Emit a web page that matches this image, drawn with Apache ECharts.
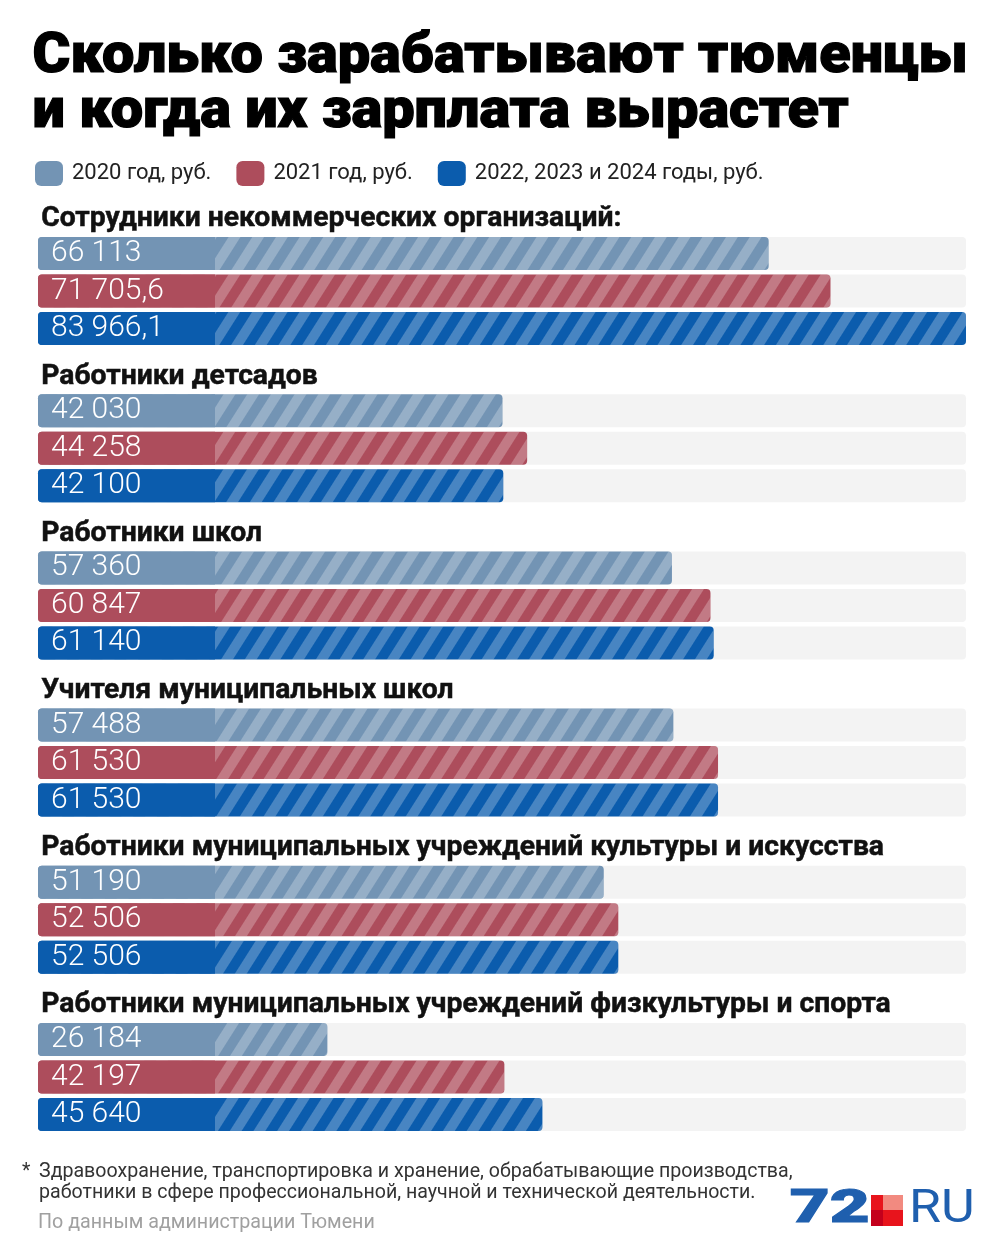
<!DOCTYPE html>
<html>
<head>
<meta charset="utf-8">
<script src="https://cdn.jsdelivr.net/npm/echarts@6/dist/echarts.min.js"></script>
<style>
html,body{margin:0;padding:0;background:#fff;}
#chart{width:1000px;height:1250px;}
</style>
</head>
<body>
<div id="chart"></div>
<script>
// ---- data ----
const titleLines = ['Сколько зарабатывают тюменцы', 'и когда их зарплата вырастет'];
const seriesNames = ['2020 год, руб.', '2021 год, руб.', '2022, 2023 и 2024 годы, руб.'];
const groups = [
  'Сотрудники некоммерческих организаций:',
  'Работники детсадов',
  'Работники школ',
  'Учителя муниципальных школ',
  'Работники муниципальных учреждений культуры и искусства',
  'Работники муниципальных учреждений физкультуры и спорта'
];
const values2020 = [66113, 42030, 57360, 57488, 51190, 26184];
const values2021 = [71705.6, 44258, 60847, 61530, 52506, 42197];
const values2022 = [83966.1, 42100, 61140, 61530, 52506, 45640];
const footnoteLines = [
  'Здравоохранение, транспортировка и хранение, обрабатывающие производства,',
  'работники в сфере профессиональной, научной и технической деятельности.'
];
const sourceText = 'По данным администрации Тюмени';

// ---- style ----
const colors = ['#7394b4', '#ad4d5c', '#0b5cad'];
const FONT = 'Roboto';
const gridLeft = 38, gridWidth = 928;
const firstBarTop = 237, groupStep = 157.2, band = 37.5, barH = 33;
const solidPx = 177; // px from bar start where stripes begin

const allValues = [values2020, values2021, values2022];
const maxVal = Math.max(...values2020, ...values2021, ...values2022);
const solidVal = maxVal * solidPx / gridWidth;

function fmt(v) {
  const parts = String(v).split('.');
  const intPart = parts[0].replace(/\B(?=(\d{3})+(?!\d))/g, ' ');
  return parts.length > 1 ? intPart + ',' + parts[1] : intPart;
}

const grids = [], xAxes = [], yAxes = [], series = [], graphics = [];
groups.forEach((g, gi) => {
  const top = firstBarTop + gi * groupStep - (band - barH) / 2;
  grids.push({left: gridLeft, width: gridWidth, top: top, height: band * 3});
  xAxes.push({type: 'value', gridIndex: gi, min: 0, max: maxVal, show: false});
  yAxes.push({type: 'category', gridIndex: gi, inverse: true, show: false, data: ['0', '1', '2']});
  for (let k = 0; k < 3; k++) {
    const full = [0, 1, 2].map(i => i === k ? allValues[k][gi] : '-');
    const solid = [0, 1, 2].map(i => i === k ? Math.min(allValues[k][gi], solidVal) : '-');
    series.push({
      type: 'bar', name: seriesNames[k] + ' ', xAxisIndex: gi, yAxisIndex: gi,
      data: full, barWidth: barH, barGap: '-100%', silent: true,
      showBackground: k === 0,
      backgroundStyle: {color: '#f3f3f3', borderRadius: 4},
      itemStyle: {
        color: colors[k], borderRadius: 4,
        decal: {
          symbol: 'rect', symbolSize: 1, dashArrayX: [1, 0], dashArrayY: [10, 10],
          rotation: -Math.PI * 0.32, color: 'rgba(255,255,255,0.25)'
        }
      }
    });
    series.push({
      type: 'bar', name: seriesNames[k], xAxisIndex: gi, yAxisIndex: gi,
      data: solid, barWidth: barH, barGap: '-100%', silent: true,
      itemStyle: {color: colors[k], borderRadius: [4, 0, 0, 4]},
      label: {
        show: true, position: 'insideLeft', distance: 13,
        color: '#fff', fontFamily: FONT, fontWeight: 300, fontSize: 30,
        formatter: () => fmt(allValues[k][gi])
      }
    });
  }
  graphics.push({
    type: 'text', left: 41, top: firstBarTop + gi * groupStep - 32,
    style: {text: g, fontFamily: FONT, fontWeight: 'bold', fontSize: 28.3, fill: '#111',
      stroke: '#111', lineWidth: 0.5}
  });
});

// title
titleLines.forEach((t, i) => {
  graphics.push({
    type: 'text', left: 32, top: 29 + i * 55, scaleX: 1.03,
    style: {text: t, fontFamily: FONT, fontWeight: 900, fontSize: 56, fill: '#000',
      stroke: '#000', lineWidth: 1.2}
  });
});
// footnote
graphics.push({type: 'text', left: 22, top: 1162, style: {text: '*', fontFamily: FONT, fontSize: 19.5, fill: '#333'}});
footnoteLines.forEach((t, i) => {
  graphics.push({type: 'text', left: 39, top: 1162 + i * 21,
    style: {text: t, fontFamily: FONT, fontSize: 19.6, fill: '#333'}});
});
graphics.push({type: 'text', left: 38, top: 1213,
  style: {text: sourceText, fontFamily: FONT, fontSize: 19.7, fill: '#a0a0a0'}});
// logo
graphics.push({type: 'text', left: 789, top: 1187, scaleX: 1.5,
  style: {text: '72', fontFamily: FONT, fontWeight: 900, fontSize: 46, fill: '#1f5fae',
    stroke: '#1f5fae', lineWidth: 1}});
graphics.push({type: 'rect', shape: {x: 871, y: 1195, width: 12, height: 15}, style: {fill: '#e8141c'}});
graphics.push({type: 'rect', shape: {x: 883, y: 1195, width: 20, height: 15}, style: {fill: '#f28a80'}});
graphics.push({type: 'rect', shape: {x: 871, y: 1210, width: 12, height: 16}, style: {fill: '#c4001c'}});
graphics.push({type: 'rect', shape: {x: 883, y: 1210, width: 20, height: 16}, style: {fill: '#e8141c'}});
graphics.push({type: 'text', left: 909, top: 1187, scaleX: 1.13,
  style: {text: 'RU', fontFamily: FONT, fontWeight: 400, fontSize: 46, fill: '#1f5fae'}});

const chart = echarts.init(document.getElementById('chart'), null, {renderer: 'canvas'});
chart.setOption({
  backgroundColor: '#fff',
  animation: false,
  legend: {
    data: seriesNames.map((n, i) => ({name: n, itemStyle: {color: colors[i], decal: 'none'}})),
    left: 30, top: 156, itemWidth: 28, itemHeight: 25, itemGap: 25, icon: 'roundRect',
    selectedMode: false,
    textStyle: {fontFamily: FONT, fontSize: 22, color: '#222', padding: [0, 0, 0, 4]}
  },
  grid: grids, xAxis: xAxes, yAxis: yAxes, series: series,
  graphic: graphics
});
</script>
</body>
</html>
